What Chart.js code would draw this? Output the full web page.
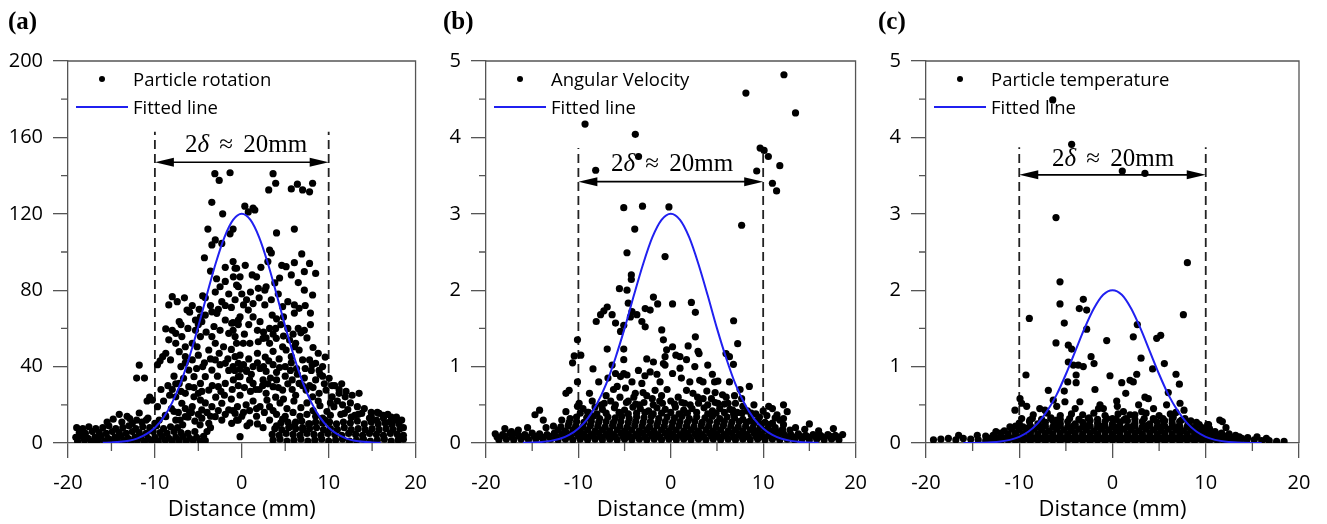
<!DOCTYPE html>
<html lang="en">
<head>
  <meta charset="UTF-8">
  <title>Particle rotation, angular velocity and temperature vs distance</title>
  <script src="https://cdn.jsdelivr.net/npm/chart.js"></script>
  <style>
    body {
      margin: 0;
      width: 1327px;
      height: 524px;
      overflow: hidden;
      background: #fff;
      font-family: 'Open Sans', sans-serif;
      color: #000;
    }
    .panel { position: absolute; top: 0; height: 524px; }
    #pa { left: 0; width: 440px; }
    #pb { left: 440px; width: 440px; }
    #pc { left: 880px; width: 447px; }
    canvas { position: absolute; left: 0; top: 0; }
    .tag {
      position: absolute;
      top: 7px;
      font: bold 25px 'Liberation Serif', serif;
      line-height: 28px;
    }
    .legend { position: absolute; top: 65px; font-size: 18.5px; line-height: 28px; }
    .legend .row { display: flex; align-items: center; height: 28px; white-space: nowrap; }
    .legend .mark { width: 52px; height: 28px; position: relative; margin-right: 5px; }
    .legend .dot {
      position: absolute; left: 23px; top: 11px;
      width: 6px; height: 6px; border-radius: 50%; background: #000;
    }
    .legend .line {
      position: absolute; left: 0; right: 0; top: 13px;
      height: 2px; background: #2020f0;
    }
    .note {
      position: absolute;
      transform: translate(-50%, -50%);
      font: 25px 'Liberation Serif', serif;
      white-space: nowrap;
      word-spacing: 4px;
    }
  </style>
</head>
<body>
  <div class="panel" id="pa">
    <canvas id="ca" width="440" height="524"></canvas>
    <div class="tag" style="left:8px">(a)</div>
    <div class="legend" style="left:76px">
      <div class="row"><div class="mark"><div class="dot"></div></div>Particle rotation</div>
      <div class="row"><div class="mark"><div class="line"></div></div>Fitted line</div>
    </div>
    <div class="note" style="left:246px; top:144px">2<i>δ</i> ≈ 20mm</div>
  </div>
  <div class="panel" id="pb">
    <canvas id="cb" width="440" height="524"></canvas>
    <div class="tag" style="left:3px">(b)</div>
    <div class="legend" style="left:54px">
      <div class="row"><div class="mark"><div class="dot"></div></div>Angular Velocity</div>
      <div class="row"><div class="mark"><div class="line"></div></div>Fitted line</div>
    </div>
    <div class="note" style="left:232px; top:163px">2<i>δ</i> ≈ 20mm</div>
  </div>
  <div class="panel" id="pc">
    <canvas id="cc" width="447" height="524"></canvas>
    <div class="tag" style="left:-2px">(c)</div>
    <div class="legend" style="left:54px">
      <div class="row"><div class="mark"><div class="dot"></div></div>Particle temperature</div>
      <div class="row"><div class="mark"><div class="line"></div></div>Fitted line</div>
    </div>
    <div class="note" style="left:233px; top:158px">2<i>δ</i> ≈ 20mm</div>
  </div>

  <script>
    // ---- data ----
    const fitX = [-16,-15,-14,-13,-12,-11,-10,-9,-8,-7,-6,-5,-4,-3,-2,-1,0,1,2,3,4,5,6,7,8,9,10,11,12,13,14,15,16];
    const fitRotation = [0.1,0.3,0.6,1.2,2.4,4.6,8.0,13.4,21.3,31.9,45.4,61.1,77.9,94.1,107.7,116.8,120,116.8,107.7,94.1,77.9,61.1,45.4,31.9,21.3,13.4,8.0,4.6,2.4,1.2,0.6,0.3,0.1];
    const fitAngular = [0.002,0.006,0.013,0.028,0.055,0.105,0.19,0.32,0.51,0.77,1.11,1.50,1.93,2.34,2.69,2.92,3.00,2.92,2.69,2.34,1.93,1.50,1.11,0.77,0.51,0.32,0.19,0.105,0.055,0.028,0.013,0.006,0.002];
    const fitTemperature = [0.0005,0.0015,0.004,0.009,0.020,0.041,0.081,0.15,0.26,0.42,0.63,0.90,1.20,1.50,1.76,1.94,2.00,1.94,1.76,1.50,1.20,0.90,0.63,0.42,0.26,0.15,0.081,0.041,0.020,0.009,0.004,0.0015,0.0005];

    const guideX = [-10, 10];
    const xMinor = [-15, -5, 5, 15];
    const rotationMinor = [20, 60, 100, 140, 180];
    const kineticMinor = [0.5, 1.5, 2.5, 3.5, 4.5];

    // (a) particle rotation, [distance, value]
    const rotationPoints = [
      [-3.1,141],[-2.6,137.5],[-1.35,141.5],[-3.45,126],[-2.2,120],[-3.9,112],[-1.35,109.5],[-3.05,106.3],[-2.3,104.5],[-3.44,103.7],[-4.3,97],
      [3.6,141],[3.9,136],[3.1,132.5],[5.7,133],[6.4,135.5],[7.0,132.5],[7.8,131.5],[8.15,136],
      [0.35,124],[0.75,121],[1.3,123],[1.5,122],[-1.0,112],[4.0,110],[6.05,112],[3.2,101],[3.4,99.5],
      [-1.9,92],[-0.77,91.5],[-0.97,87],[-1.9,84.6],[-0.6,82.7],[-2.5,81.8],[-3.05,79],[-1.5,78],[-0.77,75],[-4.5,77],[-4.2,76],
      [-2.3,74],[-1.9,72],[-1.2,71],[-3.44,68.7],[-2.87,67.9],[-4.2,67],[-4.6,63.5],[-1.9,64.4],[-1.16,62.7],[-0.4,64.4],
      [-2.5,59],[-1.5,57.4],[-0.77,55.7],[-3.44,55.7],[-3.05,52.2],[-2.1,50.4],
      [-5.33,59],[-4.76,55.7],[-5.7,52.2],[-5.15,50.4],[-6.5,50.4],[-6.9,55.7],[-7.6,57.4],[-8.0,59],[-8.4,54],[-7.6,52.2],
      [-7.2,47.8],[-6.5,45.2],[-5.7,43.5],[-8.75,59.7],[-8.75,47],[-8.2,43.5],[-9.1,45.2],
      [-8.0,76.6],[-8.4,72.3],[-7.43,74],[-6.3,69.6],[-6.0,68.5],[-7.2,63.5],[-7.0,62],[-5.33,64.4],[-4.76,66],
      [-3.8,48.7],[-3.05,43.5],[-1.9,41.7],[-0.77,45.2],[-0.4,41.7],[-3.44,38.2],[-4.2,34.7],[-4.76,31.2],[-3.8,27.7],
      [-2.7,29.5],[-1.9,31.2],[-0.97,33],[-0.4,34.7],
      [-6.1,38.2],[-5.5,34.7],[-6.7,33.9],[-7.2,31.2],[-6.1,29.5],[-6.5,26],[-5.5,24.2],[-4.76,22.5],[-7.6,24.2],[-6.9,20.8],
      [-5.7,19],[-4.6,17.3],[-3.44,19],[-2.3,20.8],[-1.5,17.3],[-0.77,15.5],[-3.05,13.8],[-2.3,12],[-3.8,10.3],[-1.16,10.3],[-0.4,12],
      [-10.6,24],[-10.3,22.5],[-10.9,22],[-9.7,41],[-9.4,43],[-11.8,40.8],[-12.1,34],[-11.2,34],[-9.3,28],[-8.1,18],[-7.8,16.5],
      [-14.1,15],[-13.2,14],[-11.8,15.7],[-9.7,19],[-8.75,13.8],[-7.6,12],[-6.5,13.8],[-11,12],[-10,10.3],[-12.6,10.3],[-12.1,12],
      [-15.5,11],[-14.8,12.5],[-13.8,11],[-12.9,12.8],[-11.5,11],[-10.8,13],[-9.5,12],[-8.8,14.5],[-7.1,12],[-6.2,13.5],
      [-5.4,11.5],[-4.6,13],[-5.8,16],[-4.8,9.5],[-6.8,9.5],[-4.0,6],[-3.6,8],
      [-7.8,35],[-8.5,30],[-9.0,22],[-8.3,25],[-7.0,27],[-6.0,16],[-5.0,26],[-4.2,21],[-3.0,24],[-2.0,25],[-1.2,23],[-0.2,25],
      [-2.8,35],[-1.5,38],[-3.6,44],[-4.5,40],[-5.0,46],[-2.6,47],[-1.2,49],[-0.2,46],[-0.5,19],
      [-7.3,16],[-6.5,18],[-5.0,15],[-4.0,16],[-3.6,14],[-2.7,17],[-1.9,15],[-1.0,17],[0.0,14],[0.9,17],[1.7,18],[2.6,16],
      [3.2,19],[4.0,15],[5.0,14],[5.9,16],[6.7,14],[7.5,15],[8.5,14],[9.6,12],
      [-8.0,28],[-7.6,31],[-5.5,29],[-4.6,27],[-3.4,30],[-2.4,27],[-1.1,28],[-0.4,30],[0.9,33],[1.6,28],[2.4,30],[3.0,31],
      [4.2,29],[5.3,31],[5.8,33],[7.0,30],[8.2,29],[8.5,33],[9.3,35],
      [-7.0,40],[-6.5,42],[-5.2,39],[-4.3,42],[-2.5,41],[-1.6,44],[-0.8,38],[0.2,41],[1.1,36],[1.8,42],[2.5,40],[3.1,43],
      [4.0,37],[5.0,40],[5.7,42],[6.3,39],[7.3,39],[8.1,41],[8.9,38],
      [-6.2,60],[-5.0,62],[-4.1,58],[-3.2,61],[-1.0,59],[0.3,57],[0.8,62],[1.8,59],[2.8,55],[3.9,60],[4.8,56],[6.5,60],[7.2,59],[7.9,62],
      [-5.7,72],[-4.9,70],[-3.6,72],[-2.7,70],[0.0,78],[1.0,79],[2.0,76],[3.4,75],[4.2,78],[5.3,74],[7.3,72],[7.9,68],
      [-6.6,76],[3.5,67],[4.8,66],
      [-3.6,90],[-2.9,86],[-1.0,95],[0.4,93],[1.2,88],[2.2,92],[3.0,95],[4.6,93],[6.5,84],[6.9,99],
      [5.1,92.3],[6.05,94.4],[5.7,88],[7.2,89.7],[7.8,94],[8.5,88.8],[4.35,86.4],[3.8,83.8],[2.8,81.8],[2.65,80],[1.9,81],[1.7,87],
      [-0.2,87],[-0.6,91.5],[-0.4,81.8],[7.2,80],[8.15,77.5],[4.7,71.4],[6.05,72.3],[6.6,70.5],[6.05,68],[2.65,72.3],
      [0.55,75],[1.3,73],[0.2,72.3],[0.75,69.6],[-0.2,66],[-1.0,63],[-0.4,62],[6.8,57.7],
      [1.3,66],[2.1,63.5],[3.2,60],[2.5,58],[3.6,57],[4.5,62],[5.3,60],[5.9,57],[4.0,65],
      [-0.6,52.2],[0.17,52.2],[0.93,52.2],[1.9,53],[2.45,54.8],[3.2,52.2],[3.97,54.8],[4.7,50.4],[5.5,53.9],[6.2,52.2],
      [5.1,48.7],[5.7,45.2],[6.06,50.4],[6.6,48.7],[7.0,43.5],[7.8,43.5],[8.5,41.7],[9.3,40],[10.05,33.9],
      [7.5,55],[8.2,50],[8.8,47],[9.6,45],[8.0,38],[9.0,36],[10.7,30],[11.5,31],
      [0.8,44],[1.8,47],[2.7,45],[3.6,48],[4.3,44],[0.3,29],[1.0,27],[2.0,28],[2.8,26],[3.3,34],[4.0,33],[5.0,35],
      [5.6,38],[6.4,36],[7.2,34],[7.8,30],[5.8,28],[6.2,25],[4.8,23],[3.9,24],[9.5,31],[8.8,22],[9.3,13],
      [-1.0,40],[-0.2,38.5],[0.55,37.5],[1.3,40],[2.1,39],[2.8,37.5],[3.6,41],[4.35,39.5],
      [-0.2,34.7],[0.55,38.2],[1.3,31.2],[2.45,33],[3.6,29.5],[4.7,27.7],[6.6,31.2],[7.4,27.7],[8.15,24.2],[8.9,26],[9.7,27.7],
      [10.4,24.2],[11.2,26],[11.9,24.2],[12.7,25],[10.4,30],[11.2,28],[12.0,27],[13.5,26],
      [10.2,21],[11.0,22],[11.6,20],[12.5,21],[13.3,19],[14.1,18],[14.9,16],[15.8,15.5],[16.8,15],[17.8,13.5],[18.4,12],
      [0.5,20],[1.3,22],[2.1,19],[2.9,22.5],[3.6,17],[4.4,21],[5.2,18],[6.0,22],[6.8,18.5],[7.5,21],[8.2,17],[9.0,19.5],
      [9.8,16.5],[10.6,19],[11.4,15],[12.2,17.5],[13.0,14.5],[13.8,15.5],[14.7,13],[15.5,12],[16.3,13],[17.0,11],[17.7,12],
      [-0.6,12],[0.2,16],[0.93,10.5],[1.7,14],[2.45,8],[3.2,12],[4.0,9],[4.7,12.5],[5.5,8.5],[6.2,11],[7.0,8],[7.8,10],
      [10.2,14.5],[11.8,15.5],[12.6,13.5],[13.4,15],[14.9,14],[16.3,14.5],[15.6,16],[17.2,13.5],
      [4.5,10.5],[5.3,11],[6.1,10],[6.9,11.5],[7.7,10],[8.5,11],[9.3,10.5],[10.1,11],[10.9,10],[11.7,11],[12.5,10.5],
      [13.3,11.5],[14.1,10],[14.9,11],[15.7,10],[16.5,10.5],[17.3,9.5],[18.1,10],
      [3.8,7.5],[4.6,7],[5.4,8],[6.2,7.5],[7.0,7],[7.8,7.5],[8.6,8],[9.4,7],[10.2,7.5],[11.0,7],[11.8,8],[12.6,7],[13.4,7.5],
      [14.2,7],[15.0,7.5],[15.8,7],[16.6,7.5],[17.4,7],[18.2,7.5],[18.6,8],
      [3.5,4.5],[4.3,4],[5.1,5],[5.9,4.5],[6.7,4],[7.5,5],[8.3,4.5],[9.1,4],[9.9,5],[10.7,4.5],[11.5,4],[12.3,5],[13.1,4.5],
      [13.9,4],[14.7,5],[15.5,4.5],[16.3,4],[17.1,5],[17.9,4.5],[18.6,4],
      [3.6,1.5],[4.4,2],[5.2,1],[6.0,1.5],[6.8,2],[7.6,1],[8.4,1.5],[9.2,2],[10.0,1],[10.8,1.5],[11.6,2],[12.4,1],[13.2,1.5],
      [14.0,2],[14.8,1],[15.6,1.5],[16.4,2],[17.2,1],[18.0,1.5],[18.6,2],
      [-19,8],[-18.3,7.5],[-17.6,8.5],[-16.8,7.5],[-16,8],[-15.3,9],[-14.5,7.5],[-13.7,8],[-13,9],[-12.2,7.5],[-11.4,8.5],
      [-10.6,8],[-9.8,9],[-9,7.5],[-8.2,8.5],[-7.4,8],
      [-18.7,5.5],[-18,5],[-17.2,6],[-16.4,5.5],[-15.6,5],[-14.9,6],[-14.1,5.5],[-13.3,5],[-12.6,6],[-11.8,5.5],[-11,5],
      [-10.2,6],[-9.4,5.5],[-8.6,5],[-7.8,6],[-7,5.5],[-6.2,5],[-5.4,6],
      [-19.1,3],[-18.4,3.5],[-17.7,2.5],[-16.9,3],[-16.2,3.5],[-15.4,2.5],[-14.6,3],[-13.9,3.5],[-13.1,2.5],[-12.3,3],
      [-11.6,3.5],[-10.8,2.5],[-10,3],[-9.2,3.5],[-8.4,2.5],[-7.6,3],[-6.8,3.5],[-6,2.5],[-5.2,3],[-4.4,3.5],
      [-18.9,1],[-18.1,1.5],[-17.3,0.8],[-16.6,1.2],[-15.8,1],[-15,1.5],[-14.3,0.8],[-13.5,1.2],[-12.7,1],[-12,1.5],
      [-11.2,0.8],[-10.4,1.2],[-9.6,1],[-8.8,1.5],[-8,0.8],[-7.2,1.2],[-6.4,1],[-5.6,1.5],[-4.8,0.8],[-4.2,1.2],
      [-0.2,3.3],[0.6,9],[1.8,10]
    ];

    // (b) angular velocity, [distance, value]
    const angularPoints = [
      [-9.28,4.175],[-3.84,4.04],[-8.13,3.57],[-3.49,3.75],[8.13,4.58],[12.25,4.82],[13.5,4.32],[9.67,3.86],[10.1,3.83],
      [10.56,3.75],[9.3,3.56],[11.8,3.63],[11.0,3.40],[11.45,3.30],
      [-5.09,3.08],[-3.06,3.10],[-0.2,3.09],[-3.9,2.80],[-4.74,2.49],[-0.62,2.44],[-4.27,2.20],[-4.27,2.14],[-5.56,2.02],
      [-4.74,2.0],[-1.88,1.91],[-1.42,1.82],[-4.6,1.83],
      [-6.88,1.78],[-7.24,1.73],[-7.6,1.68],[-8.07,1.59],[-6.35,1.68],[-4.2,1.72],[-3.67,1.68],[-2.77,1.76],[-2.23,1.74],[-4.37,1.65],
      [-5.98,1.57],[-5.09,1.54],[-5.44,1.46],[-3.13,1.59],[-2.77,1.52],[-0.98,1.48],[-0.8,1.35],[-10.1,1.35],[-6.88,1.23],
      [-5.09,1.23],[-10.45,1.14],[-9.74,1.15],[-10.63,1.05],[-8.42,0.97],[-6.35,1.02],[-5.09,1.09],[-2.6,1.1],[-1.88,1.06],
      [-0.62,1.13],[-0.62,1.02],
      [-2.23,0.93],[-3.13,0.78],[-3.84,0.65],[-1.7,0.69],[-1.16,0.80],[-5.98,0.91],[-5.44,0.87],[-5.09,0.91],[-4.74,0.89],
      [-4.2,0.80],[-5.8,0.74],[-10.1,0.80],[-11,0.69],[-11.35,0.65],[-9.92,0.52],[-10.1,0.48],[-14.2,0.43],[-14.7,0.37],[-11.35,0.41],
      [-5.5,0.6],[-4.6,0.55],[-3.4,0.5],[-2.6,0.62],[-1.2,0.55],[-0.4,0.7],[-6.5,0.55],[-7.5,0.5],[-8.5,0.55],[-9.0,0.4],
      [-7.0,0.62],[-6.2,0.7],[-4.9,0.72],[-4.0,0.6],[-3.0,0.66],[-2.0,0.58],[-1.0,0.62],[0.0,0.55],[0.8,0.6],[1.5,0.52],
      [2.9,0.6],[3.9,0.68],[4.8,0.66],[6.0,0.6],[6.9,0.62],[7.5,0.7],[-8.8,0.65],[-7.8,0.8],[-6.8,0.85],[-3.5,0.95],
      [-2.8,0.88],[1.0,0.98],[2.6,1.0],[4.0,1.02],[4.5,0.9],[-1.5,0.9],
      [9.0,0.5],[10.0,0.42],[11.0,0.45],[11.8,0.3],[13.5,0.2],[14.5,0.18],[16.0,0.16],
      [7.67,2.85],[0.19,1.82],[2.23,1.84],[2.66,1.71],[6.8,1.60],[2.66,1.39],[1.88,1.27],[0.19,1.26],[-0.45,1.22],[0.55,1.15],
      [0.99,1.13],[1.7,1.09],[2.95,1.2],[3.06,1.17],[7.24,1.30],[5.98,1.17],[6.35,1.13],[6.78,1.03],[-0.8,1.04],[0.19,0.91],
      [1.15,0.85],[2.06,0.80],[3.13,0.82],[3.49,0.8],[4.74,0.8],[5.1,0.81],[6.35,0.8],[8.5,0.74],[5.6,0.63],[7.67,0.58],
      [1.7,0.69],[2.4,0.65],[3.5,0.58],[4.4,0.58],[5.1,0.52],[6.2,0.52],[6.7,0.43],[7.8,0.48],[8.7,0.39],[9.6,0.34],
      [10.6,0.48],[11.5,0.37],[12.2,0.5],[12.6,0.41],[12.2,0.32],[17.6,0.19],[15.0,0.25],
      [-17.96,0.19],[-17.24,0.15],[-15.5,0.2],[-13.8,0.3],[-16.5,0.17],
      [-7.2,0.52],[-6.0,0.5],[-4.8,0.53],[-3.8,0.51],[-2.9,0.53],[-1.9,0.5],[-0.9,0.52],[0.4,0.51],[1.2,0.53],[2.1,0.5],
      [3.0,0.52],[4.0,0.5],[4.8,0.53],[5.8,0.51],[7.0,0.52],
      [-9.8,0.39],[-8.9,0.4],[-8.0,0.38],[-7.0,0.39],[-5.6,0.4],[-4.6,0.38],[-3.7,0.39],[-2.8,0.4],[-1.9,0.38],[-1.0,0.39],
      [0.0,0.4],[0.9,0.38],[1.8,0.39],[2.8,0.4],[4.0,0.38],[4.9,0.39],[5.8,0.4],[6.8,0.38],[7.7,0.39],[8.7,0.37],
      [-9.5,0.45],[-8.2,0.47],[-7.4,0.44],[-6.1,0.46],[-5.0,0.43],[-4.1,0.47],[-3.3,0.45],[-2.4,0.42],[-1.5,0.46],[-0.6,0.44],
      [0.5,0.47],[1.4,0.43],[2.3,0.45],[3.6,0.46],[4.5,0.42],[5.3,0.45],[6.4,0.44],[7.2,0.4],[8.3,0.42],[9.2,0.38],[10.4,0.36],[11.3,0.33],
      [-11.8,0.3],[-10.9,0.32],[-10.2,0.34],[-9.1,0.33],[-8.4,0.35],[-7.7,0.32],[-6.8,0.34],[-6.0,0.33],[-5.3,0.35],[-4.5,0.32],
      [-3.7,0.34],[-2.9,0.33],[-2.1,0.35],[-1.3,0.32],[-0.4,0.34],[0.4,0.33],[1.2,0.35],[2.0,0.32],[2.8,0.34],[3.7,0.33],
      [4.5,0.35],[5.3,0.32],[6.1,0.34],[6.9,0.33],[7.8,0.31],[8.6,0.29],[9.4,0.3],[10.2,0.27],[11.0,0.26],[12.2,0.24],
      [-11.0,0.27],[-10.2,0.28],[-9.4,0.27],[-8.6,0.28],[-7.8,0.27],[-7.0,0.28],[-6.2,0.27],[-5.4,0.28],[-4.6,0.27],[-3.8,0.28],
      [-3.0,0.27],[-2.2,0.28],[-1.4,0.27],[-0.6,0.28],[0.2,0.27],[1.0,0.28],[1.8,0.27],[2.6,0.28],[3.4,0.27],[4.2,0.28],
      [5.0,0.27],[5.8,0.28],[6.6,0.27],[7.4,0.28],[8.2,0.27],[9.0,0.26],[9.8,0.25],[10.6,0.24],
      [-13.5,0.2],[-12.7,0.22],[-11.9,0.21],[-11.1,0.23],[-10.3,0.22],[-9.5,0.21],[-8.7,0.23],[-7.9,0.22],[-7.1,0.21],[-6.3,0.23],
      [-5.5,0.22],[-4.7,0.21],[-3.9,0.23],[-3.1,0.22],[-2.3,0.21],[-1.5,0.23],[-0.7,0.22],[0.1,0.21],[0.9,0.23],[1.7,0.22],
      [2.5,0.21],[3.3,0.23],[4.1,0.22],[4.9,0.21],[5.7,0.23],[6.5,0.22],[7.3,0.21],[8.1,0.22],[8.9,0.2],[9.7,0.21],
      [10.5,0.19],[11.3,0.2],[12.1,0.18],[12.9,0.17],
      [-12.2,0.17],[-11.4,0.16],[-10.6,0.17],[-9.8,0.16],[-9.0,0.17],[-8.2,0.16],[-7.4,0.17],[-6.6,0.16],[-5.8,0.17],[-5.0,0.16],
      [-4.2,0.17],[-3.4,0.16],[-2.6,0.17],[-1.8,0.16],[-1.0,0.17],[-0.2,0.16],[0.6,0.17],[1.4,0.16],[2.2,0.17],[3.0,0.16],
      [3.8,0.17],[4.6,0.16],[5.4,0.17],[6.2,0.16],[7.0,0.17],[7.8,0.16],[8.6,0.17],[9.4,0.16],[10.2,0.17],[11.0,0.16],[11.8,0.15],
      [-19.0,0.12],[-18.2,0.11],[-17.4,0.13],[-16.6,0.12],[-15.8,0.11],[-15.0,0.13],[-14.2,0.12],[-13.4,0.11],[-12.6,0.13],
      [-11.8,0.12],[-11.0,0.11],[-10.2,0.13],[-9.4,0.12],[-8.6,0.11],[-7.8,0.13],[-7.0,0.12],[-6.2,0.11],[-5.4,0.13],
      [-4.6,0.12],[-3.8,0.11],[-3.0,0.13],[-2.2,0.12],[-1.4,0.11],[-0.6,0.13],[0.2,0.12],[1.0,0.11],[1.8,0.13],[2.6,0.12],
      [3.4,0.11],[4.2,0.13],[5.0,0.12],[5.8,0.11],[6.6,0.13],[7.4,0.12],[8.2,0.11],[9.0,0.13],[9.8,0.12],[10.6,0.11],
      [11.4,0.13],[12.2,0.12],[13.0,0.11],[13.8,0.12],[14.6,0.1],[15.4,0.11],[16.2,0.1],[17.0,0.11],[17.8,0.1],[18.6,0.11],
      [-18.8,0.08],[-18.0,0.09],[-17.2,0.08],[-16.4,0.09],[-15.6,0.08],[-14.8,0.09],[-14.0,0.08],[-13.2,0.09],[-12.4,0.08],
      [-11.6,0.09],[-10.8,0.08],[-10.0,0.09],[-9.2,0.08],[-8.4,0.09],[-7.6,0.08],[-6.8,0.09],[-6.0,0.08],[-5.2,0.09],
      [-4.4,0.08],[-3.6,0.09],[-2.8,0.08],[-2.0,0.09],[-1.2,0.08],[-0.4,0.09],[0.4,0.08],[1.2,0.09],[2.0,0.08],[2.8,0.09],
      [3.6,0.08],[4.4,0.09],[5.2,0.08],[6.0,0.09],[6.8,0.08],[7.6,0.09],[8.4,0.08],[9.2,0.09],[10.0,0.08],[10.8,0.09],
      [11.6,0.08],[12.4,0.09],[13.2,0.08],[14.0,0.09],[14.8,0.08],[15.6,0.09],[16.4,0.08],[17.2,0.09],[18.0,0.08],
      [-18.6,0.04],[-17.8,0.05],[-17.0,0.04],[-16.2,0.05],[-15.4,0.04],[-14.6,0.05],[-13.8,0.04],[-13.0,0.05],[-12.2,0.04],
      [-11.4,0.05],[-10.6,0.04],[-9.8,0.05],[-9.0,0.04],[-8.2,0.05],[-7.4,0.04],[-6.6,0.05],[-5.8,0.04],[-5.0,0.05],
      [-4.2,0.04],[-3.4,0.05],[-2.6,0.04],[-1.8,0.05],[-1.0,0.04],[-0.2,0.05],[0.6,0.04],[1.4,0.05],[2.2,0.04],[3.0,0.05],
      [3.8,0.04],[4.6,0.05],[5.4,0.04],[6.2,0.05],[7.0,0.04],[7.8,0.05],[8.6,0.04],[9.4,0.05],[10.2,0.04],[11.0,0.05],
      [11.8,0.04],[12.6,0.05],[13.4,0.04],[14.2,0.05],[15.0,0.04],[15.8,0.05],[16.6,0.04],[17.4,0.05],[18.2,0.04]
    ];

    // (c) particle temperature, [distance, value]
    const temperaturePoints = [
      [-6.41,4.49],[-4.38,3.91],[1.05,3.56],[3.48,3.53],[-6.06,2.95],[-5.63,2.11],[-5.63,1.82],[-8.92,1.63],[-3.13,1.88],
      [-3.56,1.76],[-2.77,1.74],[-5.17,1.57],[-2.77,1.49],[-0.62,1.34],[-6.06,1.31],[-4.74,1.28],[-4.38,1.23],[-2.3,1.13],
      [-4.74,1.06],[-4.2,1.02],[-3.67,1.02],[-3.13,1.0],[-1.98,1.04],[-0.27,0.88],[-9.28,0.89],[-3.9,0.89],[-4.8,0.80],
      [-3.9,0.79],[-6.88,0.69],[-5.17,0.68],[-1.88,0.7],[-9.92,0.58],[-9.74,0.52],[-10.46,0.43],[-9.2,0.48],[-6.35,0.56],
      [-5.1,0.54],[-3.5,0.54],[-1.34,0.5],[-0.98,0.45],[-7.24,0.43],[-5.98,0.48],[-5.98,0.3],[-8.85,0.3],[-9.74,0.32],[-11,0.21],
      [8.03,2.36],[7.6,1.68],[2.66,1.55],[2.23,1.39],[4.74,1.37],[5.17,1.41],[3.06,1.11],[5.56,1.04],[4.3,0.97],[6.81,0.9],
      [7.17,0.77],[0.99,0.79],[1.88,0.82],[2.23,0.8],[2.6,0.9],[1.42,0.65],[0.45,0.55],[0.52,0.48],[3.48,0.6],[3.84,0.58],
      [5.98,0.66],[7.24,0.52],[7.67,0.43],[7.77,0.32],[7.24,0.15],[9.3,0.24],[11.78,0.28],[12.17,0.2],[13.86,0.06],
      [1.17,0.41],[1.88,0.37],[3.13,0.41],[4.38,0.32],[5.45,0.3],[6.52,0.34],
      [8.5,0.2],[9.5,0.15],[10.3,0.24],[11.0,0.15],[11.5,0.3],[12.5,0.12],[13.2,0.1],
      [-9.0,0.2],[-7.8,0.22],[-6.0,0.24],[-4.2,0.22],[-2.6,0.23],[-1.0,0.22],[0.6,0.21],[2.2,0.22],[3.8,0.23],[5.4,0.22],
      [7.0,0.21],[-7.8,0.45],[-6.6,0.33],[-4.0,0.45],[-2.5,0.33],[-1.5,0.45],[0.0,0.32],[1.2,0.3],[2.8,0.5],[4.4,0.45],
      [5.8,0.5],[6.8,0.4],[-12.5,0.15],[-14.5,0.1],[-16.5,0.1],[14.5,0.07],[15.5,0.08],[16.5,0.06],
      [-8.5,0.37],[-7.0,0.39],[-5.6,0.36],[-4.4,0.38],[-3.2,0.37],[-2.0,0.39],[-0.8,0.36],[0.6,0.38],[2.4,0.37],[3.6,0.39],
      [5.0,0.36],[6.2,0.38],
      [-8.6,0.32],[-7.6,0.31],[-6.6,0.32],[-5.6,0.31],[-4.6,0.32],[-3.6,0.31],[-2.6,0.32],[-1.6,0.31],[-0.6,0.32],[0.4,0.31],
      [1.4,0.32],[2.4,0.31],[3.4,0.32],[4.4,0.31],[5.4,0.32],[6.4,0.31],[7.4,0.3],[8.4,0.29],
      [-10.0,0.26],[-8.9,0.28],[-8.0,0.25],[-7.2,0.27],[-6.4,0.29],[-5.6,0.26],[-4.8,0.28],[-4.0,0.25],[-3.2,0.27],[-2.4,0.29],
      [-1.6,0.26],[-0.8,0.28],[0.0,0.25],[0.8,0.27],[1.6,0.29],[2.4,0.26],[3.2,0.28],[4.0,0.25],[4.8,0.27],[5.6,0.29],
      [6.4,0.26],[7.2,0.28],[8.1,0.25],[9.0,0.27],[10.2,0.24],
      [-10.4,0.22],[-9.6,0.21],[-8.8,0.22],[-8.0,0.21],[-7.2,0.22],[-6.4,0.21],[-5.6,0.22],[-4.8,0.21],[-4.0,0.22],[-3.2,0.21],
      [-2.4,0.22],[-1.6,0.21],[-0.8,0.22],[0.0,0.21],[0.8,0.22],[1.6,0.21],[2.4,0.22],[3.2,0.21],[4.0,0.22],[4.8,0.21],
      [5.6,0.22],[6.4,0.21],[7.2,0.22],[8.0,0.21],[8.8,0.2],[9.6,0.2],[10.4,0.19],
      [-11.6,0.16],[-10.8,0.18],[-10.0,0.17],[-9.2,0.16],[-8.4,0.18],[-7.6,0.17],[-6.8,0.16],[-6.0,0.18],[-5.2,0.17],[-4.4,0.16],
      [-3.6,0.18],[-2.8,0.17],[-2.0,0.16],[-1.2,0.18],[-0.4,0.17],[0.4,0.16],[1.2,0.18],[2.0,0.17],[2.8,0.16],[3.6,0.18],
      [4.4,0.17],[5.2,0.16],[6.0,0.18],[6.8,0.17],[7.6,0.16],[8.4,0.17],[9.2,0.15],[10.0,0.16],[10.8,0.14],[11.7,0.13],
      [-12.0,0.13],[-11.2,0.12],[-10.4,0.13],[-9.6,0.12],[-8.8,0.13],[-8.0,0.12],[-7.2,0.13],[-6.4,0.12],[-5.6,0.13],[-4.8,0.12],
      [-4.0,0.13],[-3.2,0.12],[-2.4,0.13],[-1.6,0.12],[-0.8,0.13],[0.0,0.12],[0.8,0.13],[1.6,0.12],[2.4,0.13],[3.2,0.12],
      [4.0,0.13],[4.8,0.12],[5.6,0.13],[6.4,0.12],[7.2,0.13],[8.0,0.12],[8.8,0.13],[9.6,0.12],[10.4,0.11],[11.2,0.11],
      [-13.6,0.09],[-12.8,0.1],[-12.0,0.09],[-11.2,0.1],[-10.4,0.09],[-9.6,0.1],[-8.8,0.09],[-8.0,0.1],[-7.2,0.09],[-6.4,0.1],
      [-5.6,0.09],[-4.8,0.1],[-4.0,0.09],[-3.2,0.1],[-2.4,0.09],[-1.6,0.1],[-0.8,0.09],[0.0,0.1],[0.8,0.09],[1.6,0.1],
      [2.4,0.09],[3.2,0.1],[4.0,0.09],[4.8,0.1],[5.6,0.09],[6.4,0.1],[7.2,0.09],[8.0,0.1],[8.8,0.09],[9.6,0.1],
      [10.4,0.09],[11.2,0.08],[12.0,0.09],[12.8,0.07],[13.6,0.08],
      [-13.2,0.06],[-12.4,0.06],[-11.6,0.06],[-10.8,0.06],[-10.0,0.06],[-9.2,0.06],[-8.4,0.06],[-7.6,0.06],[-6.8,0.06],
      [-6.0,0.06],[-5.2,0.06],[-4.4,0.06],[-3.6,0.06],[-2.8,0.06],[-2.0,0.06],[-1.2,0.06],[-0.4,0.06],[0.4,0.06],[1.2,0.06],
      [2.0,0.06],[2.8,0.06],[3.6,0.06],[4.4,0.06],[5.2,0.06],[6.0,0.06],[6.8,0.06],[7.6,0.06],[8.4,0.06],[9.2,0.06],
      [10.0,0.06],[10.8,0.06],[11.6,0.05],[12.4,0.05],[13.2,0.05],
      [-19.2,0.04],[-18.4,0.05],[-17.6,0.06],[-16.8,0.04],[-16.0,0.06],[-15.2,0.05],[-14.4,0.04],[-13.6,0.03],[-12.8,0.04],
      [-12.0,0.03],[-11.2,0.04],[-10.4,0.03],[-9.6,0.04],[-8.8,0.03],[-8.0,0.04],[-7.2,0.03],[-6.4,0.04],[-5.6,0.03],
      [-4.8,0.04],[-4.0,0.03],[-3.2,0.04],[-2.4,0.03],[-1.6,0.04],[-0.8,0.03],[0.0,0.04],[0.8,0.03],[1.6,0.04],[2.4,0.03],
      [3.2,0.04],[4.0,0.03],[4.8,0.04],[5.6,0.03],[6.4,0.04],[7.2,0.03],[8.0,0.04],[8.8,0.03],[9.6,0.04],[10.4,0.03],
      [11.2,0.04],[12.0,0.03],[12.8,0.04],[13.6,0.03],[14.4,0.03],[15.2,0.04],[16.0,0.03],[16.8,0.03],[17.6,0.02],[18.4,0.02]
    ];

    // ---- drawing helpers ----
    const FONT = 'Open Sans';
    const AXIS = '#555';

    const framePlugin = {
      id: 'frame',
      afterDraw(chart, args, opts) {
        const { ctx, chartArea: a, scales: { x, y } } = chart;
        ctx.save();
        ctx.strokeStyle = AXIS;
        ctx.lineWidth = 1.3;
        ctx.beginPath();
        ctx.moveTo(a.left, a.top);
        ctx.lineTo(a.right, a.top);
        ctx.lineTo(a.right, a.bottom);
        ctx.stroke();
        // minor ticks
        ctx.beginPath();
        xMinor.forEach(v => {
          const px = x.getPixelForValue(v);
          ctx.moveTo(px, a.bottom);
          ctx.lineTo(px, a.bottom + 8);
        });
        opts.minorY.forEach(v => {
          const py = y.getPixelForValue(v);
          ctx.moveTo(a.left, py);
          ctx.lineTo(a.left - 7, py);
        });
        ctx.stroke();
        ctx.restore();
      }
    };

    const guidePlugin = {
      id: 'guides',
      beforeDatasetsDraw(chart, args, opts) {
        const { ctx, scales: { x, y } } = chart;
        ctx.save();
        ctx.strokeStyle = '#222';
        ctx.lineWidth = 1.8;
        ctx.setLineDash([9, 5]);
        guideX.forEach(v => {
          const px = x.getPixelForValue(v);
          ctx.beginPath();
          ctx.moveTo(px, y.getPixelForValue(0));
          ctx.lineTo(px, y.getPixelForValue(opts.top));
          ctx.stroke();
        });
        ctx.restore();
      },
      afterDatasetsDraw(chart, args, opts) {
        const { ctx, scales: { x, y } } = chart;
        const x1 = x.getPixelForValue(guideX[0]);
        const x2 = x.getPixelForValue(guideX[1]);
        const py = y.getPixelForValue(opts.arrow);
        ctx.save();
        ctx.strokeStyle = '#000';
        ctx.fillStyle = '#000';
        ctx.lineWidth = 1.7;
        ctx.beginPath();
        ctx.moveTo(x1 + 10, py);
        ctx.lineTo(x2 - 10, py);
        ctx.stroke();
        [[x1, 1], [x2, -1]].forEach(([px, d]) => {
          ctx.beginPath();
          ctx.moveTo(px, py);
          ctx.lineTo(px + d * 19, py - 4.5);
          ctx.lineTo(px + d * 19, py + 4.5);
          ctx.closePath();
          ctx.fill();
        });
        ctx.restore();
      }
    };

    function makeChart(id, points, fit, yMax, yStep, minorY, axisWidth, rightPad, guide) {
      return new Chart(document.getElementById(id), {
        type: 'scatter',
        data: {
          datasets: [
            {
              type: 'line',
              data: fitX.map((x, i) => ({ x, y: fit[i] })),
              borderColor: '#2020f0',
              borderWidth: 2,
              pointRadius: 0,
              cubicInterpolationMode: 'monotone',
              fill: false
            },
            {
              type: 'scatter',
              data: points.map(([x, y]) => ({ x, y })),
              pointRadius: 3.6,
              pointBorderWidth: 0,
              pointBackgroundColor: '#000',
              pointHoverRadius: 0
            }
          ]
        },
        options: {
          responsive: false,
          animation: false,
          events: [],
          layout: { padding: { top: 61, right: rightPad, left: 0, bottom: 0 } },
          scales: {
            x: {
              type: 'linear',
              min: -20, max: 20,
              afterFit(s) { s.height = 81; },
              ticks: { stepSize: 10, autoSkip: false, padding: 13, color: '#000', font: { family: FONT, size: 20 } },
              grid: { drawOnChartArea: false, drawTicks: true, tickLength: 15, color: AXIS, lineWidth: 1.3 },
              border: { color: AXIS, width: 1.3 },
              title: { display: true, text: 'Distance (mm)', color: '#000', font: { family: FONT, size: 22 }, padding: { top: 0, bottom: 1 } }
            },
            y: {
              min: 0, max: yMax,
              afterFit(s) { s.width = axisWidth; },
              ticks: { stepSize: yStep, autoSkip: false, padding: 10, color: '#000', font: { family: FONT, size: 20 } },
              grid: { drawOnChartArea: false, drawTicks: true, tickLength: 15, color: AXIS, lineWidth: 1.3 },
              border: { color: AXIS, width: 1.3 }
            }
          },
          plugins: {
            legend: { display: false },
            tooltip: { enabled: false },
            frame: { minorY },
            guides: guide
          }
        },
        plugins: [framePlugin, guidePlugin]
      });
    }

    makeChart('ca', rotationPoints, fitRotation, 200, 40, rotationMinor, 68, 21, { top: 163, arrow: 147 });
    makeChart('cb', angularPoints, fitAngular, 5, 1, kineticMinor, 46, 21, { top: 3.86, arrow: 3.42 });
    makeChart('cc', temperaturePoints, fitTemperature, 5, 1, kineticMinor, 46, 28, { top: 3.87, arrow: 3.51 });
  </script>
</body>
</html>
